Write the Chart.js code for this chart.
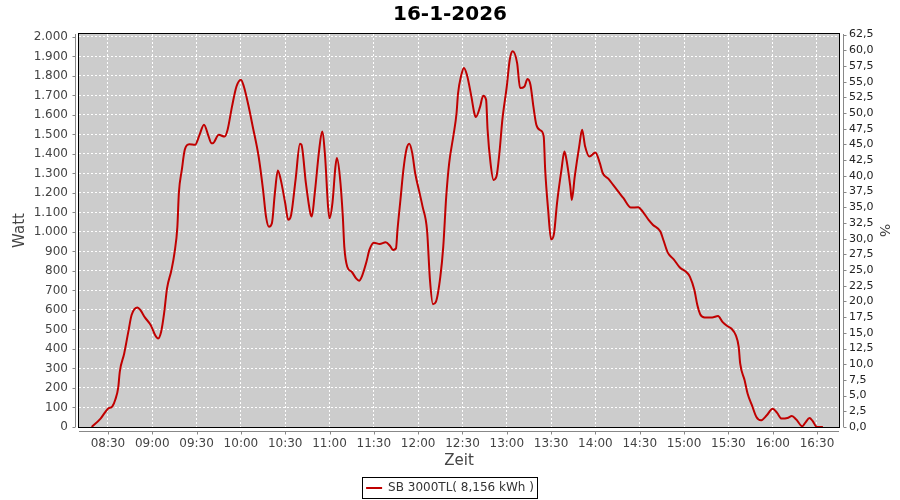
<!DOCTYPE html>
<html>
<head>
<meta charset="utf-8">
<script src="https://cdn.jsdelivr.net/npm/chart.js@4"></script>
<style>
  html, body { margin: 0; padding: 0; background: #fff; }
  #wrap { width: 900px; height: 500px; }
</style>
</head>
<body>
<div id="wrap"><canvas id="sbChart"></canvas></div>
<script>
// readings of the day (Zeit -> Watt)
const times = [
  '08:19','08:25','08:30','08:33','08:35','08:37','08:38','08:41','08:44','08:46',
  '08:50','08:52','08:55','08:59','09:02','09:04','09:06','09:08','09:10','09:13',
  '09:15','09:17','09:18','09:20','09:22','09:25','09:29','09:32','09:35','09:38',
  '09:40','09:41','09:45','09:49','09:51','09:54','09:57','10:00','10:02','10:05',
  '10:08','10:12','10:15','10:17','10:19','10:21','10:23','10:25','10:27','10:30',
  '10:32','10:34','10:37','10:40','10:41','10:44','10:47','10:48','10:50','10:53',
  '10:55','10:57','10:59','11:00','11:02','11:04','11:05','11:07','11:09','11:10',
  '11:12','11:15','11:18','11:20','11:22','11:25','11:27','11:30','11:34','11:38',
  '11:41','11:43','11:45','11:46','11:48','11:50','11:52','11:54','11:56','11:58',
  '12:01','12:03','12:06','12:08','12:10','12:12','12:15','12:17','12:19','12:21',
  '12:24','12:26','12:27','12:29','12:31','12:33','12:36','12:38','12:39','12:42',
  '12:44','12:46','12:47','12:49','12:51','12:53','12:55','12:57','13:00','13:02',
  '13:04','13:07','13:09','13:12','13:14','13:16','13:18','13:20','13:23','13:25',
  '13:26','13:28','13:30','13:32','13:34','13:37','13:39','13:40','13:43','13:44',
  '13:46','13:49','13:51','13:53','13:56','14:00','14:03','14:05','14:09','14:12',
  '14:19','14:24','14:29','14:32','14:36','14:39','14:44','14:46','14:49','14:53',
  '14:57','15:02','15:04','15:07','15:09','15:11','15:14','15:19','15:23','15:26',
  '15:29','15:32','15:35','15:37','15:38','15:41','15:43','15:46','15:49','15:52',
  '15:56','16:00','16:03','16:06','16:10','16:13','16:16','16:20','16:22','16:25',
  '16:27','16:30','16:34'
]
const watts = [
  0, 43, 94, 106, 141, 205, 283, 377, 497, 574,
  613, 599, 562, 522, 471, 454, 488, 582, 711, 805,
  890, 1027, 1199, 1318, 1421, 1450, 1447, 1498, 1550, 1493,
  1455, 1455, 1498, 1489, 1524, 1644, 1746, 1781, 1746, 1652,
  1541, 1387, 1216, 1079, 1027, 1045, 1199, 1315, 1267, 1147,
  1062, 1087, 1267, 1452, 1447, 1250, 1096, 1079, 1199, 1421,
  1515, 1387, 1130, 1070, 1150, 1335, 1379, 1284, 1079, 925,
  822, 796, 762, 750, 774, 847, 908, 945, 938, 947,
  928, 908, 916, 1010, 1164, 1318, 1421, 1452, 1404, 1301,
  1199, 1130, 1010, 753, 630, 642, 770, 925, 1181, 1353,
  1500, 1610, 1710, 1798, 1841, 1806, 1695, 1610, 1589, 1644,
  1699, 1678, 1524, 1353, 1267, 1284, 1404, 1575, 1746, 1883,
  1926, 1866, 1738, 1746, 1784, 1755, 1644, 1550, 1520, 1489,
  1318, 1113, 962, 993, 1147, 1318, 1412, 1387, 1233, 1164,
  1284, 1438, 1524, 1440, 1387, 1407, 1353, 1301, 1271, 1241,
  1173, 1125, 1127, 1104, 1062, 1036, 1002, 959, 894, 860,
  819, 791, 770, 702, 625, 577, 562, 562, 569, 539,
  519, 505, 471, 411, 326, 240, 172, 111, 51, 34,
  60, 94, 72, 43, 46, 56, 38, 4, 21, 46,
  31, 0, 0
]

const xTickLabels = ['08:30','09:00','09:30','10:00','10:30','11:00','11:30','12:00','12:30',
  '13:00','13:30','14:00','14:30','15:00','15:30','16:00','16:30']
const wattTicks = [0,100,200,300,400,500,600,700,800,900,1000,1100,1200,1300,1400,1500,
  1600,1700,1800,1900,2000]
const percentTicks = [0,2.5,5,7.5,10,12.5,15,17.5,20,22.5,25,27.5,30,32.5,35,37.5,40,
  42.5,45,47.5,50,52.5,55,57.5,60,62.5]

const FONT = 'DejaVu Sans'
const TXT = '#444444'

function toMin(s) {
  const p = s.split(':')
  return parseInt(p[0]) * 60 + parseInt(p[1])
}
function fmtTime(v) {
  const h = Math.floor(v / 60), m = Math.round(v % 60)
  return String(h).padStart(2, '0') + ':' + String(m).padStart(2, '0')
}
function fmtWatt(v) {
  return String(v).replace(/\B(?=(\d{3})+(?!\d))/g, '.')
}

const points = times.map((t, i) => ({ x: toMin(t), y: watts[i] }))

// grey plot background, black frame, offset axis lines, legend box
const plotFrame = {
  id: 'plotFrame',
  beforeDraw(chart) {
    const { ctx, chartArea: a } = chart
    ctx.save()
    ctx.fillStyle = '#cccccc'
    ctx.fillRect(a.left, a.top, a.width, a.height)
    ctx.restore()
  },
  afterDraw(chart) {
    const { ctx, chartArea: a, scales } = chart
    ctx.save()
    ctx.lineWidth = 1
    ctx.strokeStyle = '#000'
    ctx.strokeRect(Math.round(a.left) - 0.5, Math.round(a.top) - 0.5,
      Math.round(a.width) + 1, Math.round(a.height) + 1)

    ctx.strokeStyle = '#888888'
    ctx.beginPath()
    const lx = Math.round(a.left) - 3.5
    const rx = Math.round(a.right) + 4.5
    const by = Math.round(a.bottom) + 4.5
    ctx.moveTo(lx, a.top); ctx.lineTo(lx, a.bottom)
    ctx.moveTo(rx, a.top); ctx.lineTo(rx, a.bottom)
    ctx.moveTo(a.left, by); ctx.lineTo(a.right, by)
    scales.y.ticks.forEach(t => {
      const py = Math.round(scales.y.getPixelForValue(t.value)) + 0.5
      ctx.moveTo(lx - 3, py); ctx.lineTo(lx, py)
    })
    scales.y2.ticks.forEach(t => {
      const py = Math.round(scales.y2.getPixelForValue(t.value)) + 0.5
      ctx.moveTo(rx, py); ctx.lineTo(rx + 3, py)
    })
    scales.x.ticks.forEach(t => {
      const px = Math.round(scales.x.getPixelForValue(t.value)) + 0.5
      ctx.moveTo(px, by); ctx.lineTo(px, by + 3)
    })
    ctx.stroke()

    const hb = chart.legend.legendHitBoxes[0]
    if (hb) {
      ctx.strokeStyle = '#000'
      const cy = hb.top + hb.height / 2
      ctx.strokeRect(Math.round(hb.left) - 3.5, Math.round(cy) - 10.5,
        Math.round(hb.width) + 7, 21)
    }
    ctx.restore()
  }
}

const ctx = document.getElementById('sbChart')

const sbChart = new Chart(ctx, {
  type: 'line',
  data: {
    datasets: [{
      label: 'SB 3000TL( 8,156 kWh )',
      data: points,
      xAxisID: 'x',
      yAxisID: 'y',
      borderColor: '#c00000',
      backgroundColor: '#c00000',
      borderWidth: 2,
      pointRadius: 0,
      cubicInterpolationMode: 'monotone',
      fill: false
    }]
  },
  options: {
    responsive: true,
    maintainAspectRatio: false,
    animation: false,
    layout: { padding: { left: 0, right: 0, top: 0, bottom: -4 } },
    plugins: {
      title: {
        display: true,
        text: '16-1-2026',
        color: '#000',
        font: { family: FONT, size: 20, weight: 'bold' },
        padding: { top: 3, bottom: 7 }
      },
      legend: {
        position: 'bottom',
        labels: {
          usePointStyle: true,
          pointStyle: 'line',
          pointStyleWidth: 16,
          color: '#333',
          font: { family: FONT, size: 12 },
          padding: 10
        }
      },
      tooltip: { enabled: false }
    },
    scales: {
      x: {
        type: 'linear',
        position: 'bottom',
        min: 490.4,
        max: 1004.9,
        afterBuildTicks: s => { s.ticks = xTickLabels.map(l => ({ value: toMin(l) })) },
        afterFit: s => { s.height = s.chart.height + 4 - s.chart.legend.height - 427 },
        ticks: {
          callback: v => fmtTime(v),
          autoSkip: false,
          maxRotation: 0,
          color: TXT,
          font: { family: FONT, size: 12 },
          padding: 2
        },
        grid: { color: '#ffffff', lineWidth: 1, tickLength: 8, tickColor: 'rgba(0,0,0,0)' },
        border: { display: false, dash: [2, 2] },
        title: {
          display: true,
          text: 'Zeit',
          color: TXT,
          font: { family: FONT, size: 15 },
          padding: { top: 0, bottom: 2 }
        }
      },
      y: {
        position: 'left',
        min: 0,
        max: 2015,
        afterBuildTicks: s => { s.ticks = wattTicks.map(v => ({ value: v })) },
        afterFit: s => { s.width = 79 },
        ticks: {
          callback: v => fmtWatt(v),
          autoSkip: false,
          color: TXT,
          font: { family: FONT, size: 12 },
          padding: 3
        },
        grid: { color: '#ffffff', lineWidth: 1, tickLength: 8, tickColor: 'rgba(0,0,0,0)' },
        border: { display: false, dash: [2, 2] },
        title: {
          display: true,
          text: 'Watt',
          color: TXT,
          font: { family: FONT, size: 15 },
          padding: { top: 11, bottom: 0 }
        }
      },
      y2: {
        position: 'right',
        min: 0,
        max: 62.6,
        afterBuildTicks: s => { s.ticks = percentTicks.map(v => ({ value: v })) },
        afterFit: s => { s.width = 61 },
        ticks: {
          callback: v => v.toFixed(1).replace('.', ','),
          autoSkip: false,
          color: '#222',
          font: { family: FONT, size: 11 },
          padding: 2
        },
        grid: { drawOnChartArea: false, tickLength: 8, tickColor: 'rgba(0,0,0,0)' },
        border: { display: false },
        title: {
          display: true,
          text: '%',
          color: TXT,
          font: { family: FONT, size: 14 },
          padding: { top: 8, bottom: 0 }
        }
      }
    }
  },
  plugins: [plotFrame]
})
</script>
</body>
</html>
